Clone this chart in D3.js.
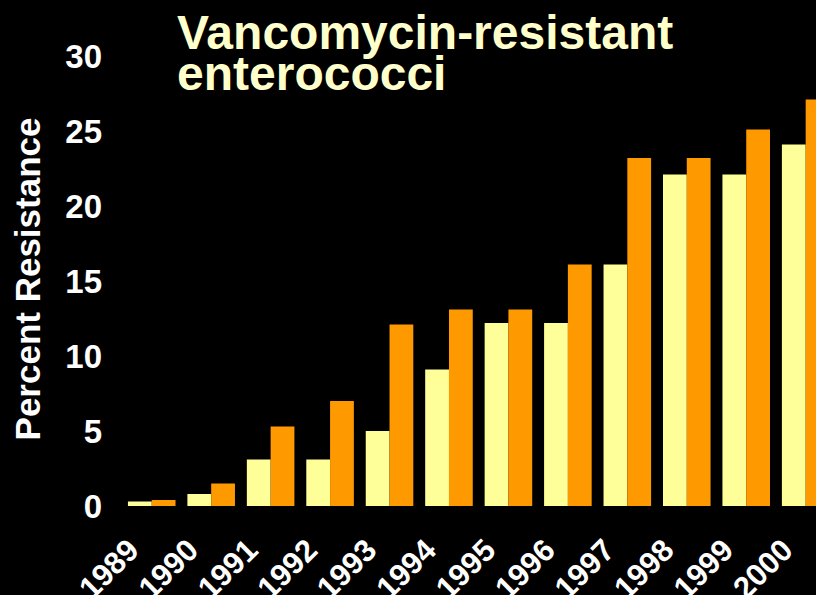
<!DOCTYPE html>
<html><head><meta charset="utf-8">
<script src="https://cdn.jsdelivr.net/npm/d3@7"></script>
<style>html,body{margin:0;padding:0;background:#000;overflow:hidden}</style>
</head><body>
<svg id="chart" width="816" height="595"></svg>
<script>
const years = ["1989","1990","1991","1992","1993","1994","1995","1996","1997","1998","1999","2000"];
const seriesA = [0.3, 0.8, 3.1, 3.1, 5, 9.1, 12.2, 12.2, 16.1, 22.1, 22.1, 24.1];
const seriesB = [0.4, 1.5, 5.3, 7, 12.1, 13.1, 13.1, 16.1, 23.2, 23.2, 25.1, 27.1];
const yTicks = [0, 5, 10, 15, 20, 25, 30];
const titleLines = ["Vancomycin-resistant", "enterococci"];
const yTitle = "Percent Resistance";

const svg = d3.select("#chart");
svg.append("rect").attr("width", 816).attr("height", 595).attr("fill", "#000");
const font = "'Liberation Sans', Arial, sans-serif";

const x0 = d3.scaleBand().domain(years).range([122, 835.4]).paddingInner(0.2).paddingOuter(0.1);
const x1 = d3.scaleBand().domain(["a", "b"]).range([0, x0.bandwidth()]);
const y = d3.scaleLinear().domain([0, 30]).range([506, 56]);
const colors = {a: "#FFFF99", b: "#FF9900"};

const data = years.map((yr, i) => ({yr, vals: [{k: "a", v: seriesA[i]}, {k: "b", v: seriesB[i]}]}));
const g = svg.append("g");
g.selectAll("g.grp").data(data).join("g").attr("class", "grp")
  .attr("transform", d => `translate(${x0(d.yr)},0)`)
  .selectAll("rect").data(d => d.vals).join("rect")
  .attr("x", d => x1(d.k)).attr("width", x1.bandwidth())
  .attr("y", d => y(d.v)).attr("height", d => y(0) - y(d.v))
  .attr("fill", d => colors[d.k]);

// y axis
const yAxis = d3.axisLeft(y).tickValues(yTicks).tickSize(0).tickPadding(0);
const ya = svg.append("g").attr("transform", "translate(102,0)").call(yAxis);
ya.select(".domain").remove();
ya.selectAll("text").attr("fill", "#fff").attr("font-family", font).attr("font-weight", "bold")
  .attr("font-size", 33).attr("dy", "0.36em");

// x axis
const xAxis = d3.axisBottom(x0).tickSize(0).tickPadding(0);
const xa = svg.append("g").attr("transform", "translate(0,506)").call(xAxis);
xa.select(".domain").remove();
xa.selectAll("text").attr("fill", "#fff").attr("font-family", font).attr("font-weight", "bold")
  .attr("font-size", 31).attr("text-anchor", "end").attr("dy", 0).attr("y", 0)
  .attr("transform", "translate(-11,46) rotate(-45)");

// y title
svg.append("text").attr("transform", "translate(40,279) rotate(-90)")
  .attr("text-anchor", "middle").attr("fill", "#fff").attr("font-family", font)
  .attr("font-weight", "bold").attr("font-size", 35).text(yTitle);

// title
const t = svg.append("text").attr("fill", "#FFFFCC").attr("font-family", font)
  .attr("font-weight", "bold").attr("font-size", 48);
titleLines.forEach((l, i) => t.append("tspan").attr("x", 177).attr("y", 49 + i * 41).text(l));
</script>
</body></html>
